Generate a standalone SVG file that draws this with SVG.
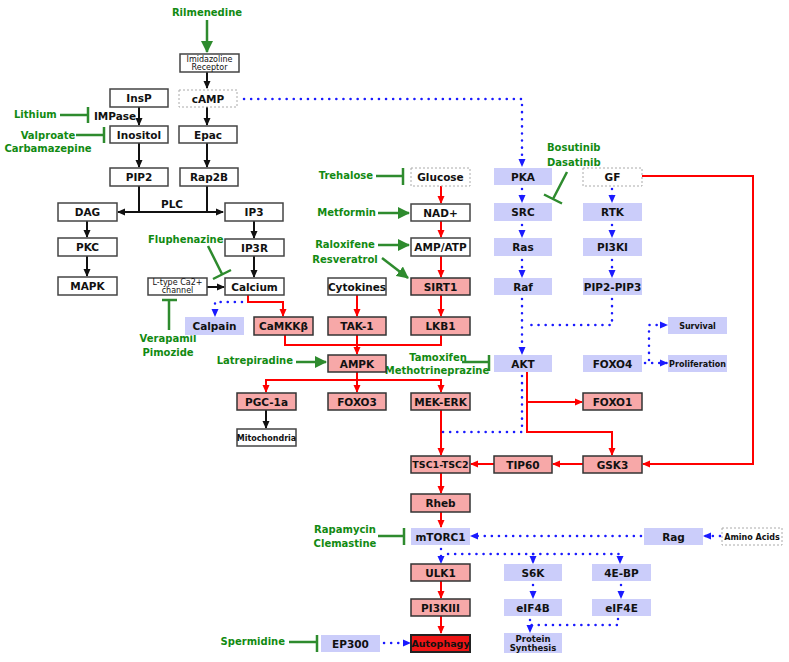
<svg xmlns="http://www.w3.org/2000/svg" width="789" height="662" viewBox="0 0 789 662">
<style>
text{font-family:"DejaVu Sans","Verdana",sans-serif;font-weight:bold;fill:#111}
.t{font-size:10.5px;text-anchor:middle}
.s{font-size:8px;text-anchor:middle;font-weight:normal}
.sb{font-size:8px;text-anchor:middle}
.g{font-size:10px;fill:#128a12}
.w{fill:#fff;stroke:#444;stroke-width:1.5}
.d{fill:#fff;stroke:#aaa;stroke-width:1;stroke-dasharray:2 2}
.p{fill:#f7a8a8;stroke:#333;stroke-width:1.5}
.l{fill:#cbcdfa;stroke:none}
.a{fill:#ee1515;stroke:#222;stroke-width:2}
.k{fill:none;stroke:#111;stroke-width:2}
.r{fill:none;stroke:#f00;stroke-width:2}
.b{fill:none;stroke:#1a1aff;stroke-width:2.5;stroke-dasharray:0.1 7;stroke-linecap:round}
.gr{fill:none;stroke:#2e8b2e;stroke-width:2.5}
</style>
<defs>
<marker id="mk" markerWidth="8" markerHeight="8" refX="7" refY="4" orient="auto-start-reverse" markerUnits="userSpaceOnUse"><path d="M0,0.5 L8,4 L0,7.5 z" fill="#111"/></marker>
<marker id="mr" markerWidth="8" markerHeight="8" refX="7" refY="4" orient="auto-start-reverse" markerUnits="userSpaceOnUse"><path d="M0,0.5 L8,4 L0,7.5 z" fill="#f00"/></marker>
<marker id="mb" markerWidth="8" markerHeight="8" refX="7" refY="4" orient="auto-start-reverse" markerUnits="userSpaceOnUse"><path d="M0,0.5 L8,4 L0,7.5 z" fill="#1a1aff"/></marker>
<marker id="mg" markerWidth="12" markerHeight="12" refX="11" refY="6" orient="auto" markerUnits="userSpaceOnUse"><path d="M0,0 L12,6 L0,12 z" fill="#2e8b2e"/></marker>
</defs>

<g id="connectors">
<!-- black -->
<path class="k" d="M207 72 V88" marker-end="url(#mk)"/>
<path class="k" d="M207 107 V125" marker-end="url(#mk)"/>
<path class="k" d="M207 143 V167" marker-end="url(#mk)"/>
<path class="k" d="M139 107 V125" marker-end="url(#mk)"/>
<path class="k" d="M139 143 V167" marker-end="url(#mk)"/>
<path class="k" d="M139 186 V212"/>
<path class="k" d="M207 186 V212"/>
<path class="k" d="M118 212 H223" marker-start="url(#mk)" marker-end="url(#mk)"/>
<path class="k" d="M87 221 V237" marker-end="url(#mk)"/>
<path class="k" d="M87 256 V276" marker-end="url(#mk)"/>
<path class="k" d="M254 221 V238" marker-end="url(#mk)"/>
<path class="k" d="M254 256 V277" marker-end="url(#mk)"/>
<path class="k" d="M207 287 H224" marker-end="url(#mk)"/>
<path class="k" d="M266 410 V428" marker-end="url(#mk)"/>
<!-- red -->
<path class="r" d="M441 185 V203" marker-end="url(#mr)"/>
<path class="r" d="M441 221 V237" marker-end="url(#mr)"/>
<path class="r" d="M441 256 V277" marker-end="url(#mr)"/>
<path class="r" d="M441 295 V316" marker-end="url(#mr)"/>
<path class="r" d="M248 295 V302 H283 V316" marker-end="url(#mr)"/>
<path class="r" d="M357 295 V316" marker-end="url(#mr)"/>
<path class="r" d="M285 335 V345 H441 V335"/>
<path class="r" d="M357 335 V354" marker-end="url(#mr)"/>
<path class="r" d="M357 372 V392" marker-end="url(#mr)"/>
<path class="r" d="M357 380 H266 V392" marker-end="url(#mr)"/>
<path class="r" d="M357 380 H441 V392" marker-end="url(#mr)"/>
<path class="r" d="M441 410 V455" marker-end="url(#mr)"/>
<path class="r" d="M527 372 V402 H582" marker-end="url(#mr)"/>
<path class="r" d="M527 402 V432 H612 V455" marker-end="url(#mr)"/>
<path class="r" d="M642 176 H753 V464 H643" marker-end="url(#mr)"/>
<path class="r" d="M583 464 H553" marker-end="url(#mr)"/>
<path class="r" d="M494 464 H471" marker-end="url(#mr)"/>
<path class="r" d="M441 473 V493" marker-end="url(#mr)"/>
<path class="r" d="M441 512 V527" marker-end="url(#mr)"/>
<path class="r" d="M441 581 V598" marker-end="url(#mr)"/>
<path class="r" d="M441 616 V633" marker-end="url(#mr)"/>
<!-- blue dotted -->
<path class="b" d="M244 99 H522 V166" marker-end="url(#mb)"/>
<path class="b" d="M522 189 V202" marker-end="url(#mb)"/>
<path class="b" d="M522 225 V237" marker-end="url(#mb)"/>
<path class="b" d="M522 260 V277" marker-end="url(#mb)"/>
<path class="b" d="M522 299 V354" marker-end="url(#mb)"/>
<path class="b" d="M612 299 V325 H528"/>
<path class="b" d="M612 189 V202" marker-end="url(#mb)"/>
<path class="b" d="M612 225 V237" marker-end="url(#mb)"/>
<path class="b" d="M612 260 V277" marker-end="url(#mb)"/>
<path class="b" d="M522 376 V432 H443"/>
<path class="b" d="M242 302 H215 V316" marker-end="url(#mb)"/>
<path class="b" d="M645 363 H667" marker-end="url(#mb)"/>
<path class="b" d="M649 360 V325 H667" marker-end="url(#mb)"/>
<path class="b" d="M720 536 H704" marker-end="url(#mb)"/>
<path class="b" d="M641 536 H471" marker-end="url(#mb)"/>
<path class="b" d="M441 549 V563" marker-end="url(#mb)"/>
<path class="b" d="M448 554 H620 V563" marker-end="url(#mb)"/>
<path class="b" d="M533 554 V563" marker-end="url(#mb)"/>
<path class="b" d="M533 585 V598" marker-end="url(#mb)"/>
<path class="b" d="M621 585 V598" marker-end="url(#mb)"/>
<path class="b" d="M618 619 V625 H530"/>
<path class="b" d="M530 620 V632" marker-end="url(#mb)"/>
<path class="b" d="M384 643 H410" marker-end="url(#mb)"/>
<!-- green -->
<path class="gr" d="M207 20 V52" marker-end="url(#mg)"/>
<path class="gr" d="M60 115 H88 M88 107 V123"/>
<path class="gr" d="M76 135 H104 M104 127 V143"/>
<path class="gr" d="M376 176 H403 M403 168 V185"/>
<path class="gr" d="M378 213 H409" marker-end="url(#mg)"/>
<path class="gr" d="M378 245 H409" marker-end="url(#mg)"/>
<path class="gr" d="M382 258 L408 278" marker-end="url(#mg)"/>
<path class="gr" d="M208 246 L222 274 M213 279 L231 270"/>
<path class="gr" d="M169 330 V300 M162 300 H177"/>
<path class="gr" d="M567 172 L553 199 M544 194.5 L562 203.5"/>
<path class="gr" d="M296 362 H326" marker-end="url(#mg)"/>
<path class="gr" d="M462 362 H489 M489 355 V371"/>
<path class="gr" d="M378 536 H404 M404 528 V545"/>
<path class="gr" d="M289 642 H317 M317 635 V652"/>
</g>

<g id="drug-labels">
<text class="g" x="207" y="16" text-anchor="middle">Rilmenedine</text>
<text class="g" x="14" y="118">Lithium</text>
<text class="g" x="48" y="139" text-anchor="middle">Valproate</text>
<text class="g" x="48" y="152" text-anchor="middle">Carbamazepine</text>
<text class="g" x="373" y="179" text-anchor="end">Trehalose</text>
<text class="g" x="376" y="216" text-anchor="end">Metformin</text>
<text class="g" x="345" y="248" text-anchor="middle">Raloxifene</text>
<text class="g" x="345" y="263" text-anchor="middle">Resveratrol</text>
<text class="g" x="148" y="243">Fluphenazine</text>
<text class="g" x="168" y="342" text-anchor="middle">Verapamil</text>
<text class="g" x="168" y="356" text-anchor="middle">Pimozide</text>
<text class="g" x="293" y="364" text-anchor="end">Latrepiradine</text>
<text class="g" x="438" y="361" text-anchor="middle">Tamoxifen</text>
<text class="g" x="437" y="374" text-anchor="middle">Methotrineprazine</text>
<text class="g" x="547" y="151">Bosutinib</text>
<text class="g" x="547" y="166">Dasatinib</text>
<text class="g" x="345" y="533" text-anchor="middle">Rapamycin</text>
<text class="g" x="345" y="547" text-anchor="middle">Clemastine</text>
<text class="g" x="285" y="645" text-anchor="end">Spermidine</text>
<text class="t" x="115" y="120">IMPase</text>
<text class="t" x="172" y="208">PLC</text>
</g>

<g id="imidazoline"><rect class="w" x="180" y="54" width="59" height="18"/><text class="s" x="209.5" y="62">Imidazoline</text><text class="s" x="209.5" y="70">Receptor</text></g>
<g id="camp"><rect class="d" x="179" y="90" width="58" height="17"/><text class="t" x="208" y="102.5">cAMP</text></g>
<g id="insp"><rect class="w" x="110" y="89" width="58" height="18"/><text class="t" x="139" y="102">InsP</text></g>
<g id="inositol"><rect class="w" x="110" y="126" width="58" height="17"/><text class="t" x="139" y="138.5">Inositol</text></g>
<g id="epac"><rect class="w" x="179" y="126" width="58" height="17"/><text class="t" x="208" y="138.5">Epac</text></g>
<g id="pip2"><rect class="w" x="110" y="168" width="58" height="18"/><text class="t" x="139" y="181">PIP2</text></g>
<g id="rap2b"><rect class="w" x="180" y="168" width="58" height="18"/><text class="t" x="209" y="181">Rap2B</text></g>
<g id="dag"><rect class="w" x="58" y="203" width="59" height="18"/><text class="t" x="87.5" y="216">DAG</text></g>
<g id="ip3"><rect class="w" x="225" y="203" width="58" height="18"/><text class="t" x="254" y="216">IP3</text></g>
<g id="pkc"><rect class="w" x="58" y="238" width="59" height="18"/><text class="t" x="87.5" y="251">PKC</text></g>
<g id="mapk"><rect class="w" x="58" y="277" width="59" height="18"/><text class="t" x="87.5" y="290">MAPK</text></g>
<g id="ip3r"><rect class="w" x="225" y="239" width="59" height="17"/><text class="t" x="254.5" y="251.5">IP3R</text></g>
<g id="ltype"><rect class="w" x="148" y="278" width="59" height="17"/><text class="s" x="177.5" y="285">L-type Ca2+</text><text class="s" x="177.5" y="293">channel</text></g>
<g id="calcium"><rect class="w" x="225" y="278" width="59" height="17"/><text class="t" x="254.5" y="290.5">Calcium</text></g>
<g id="calpain"><rect class="l" x="185" y="317" width="59" height="18"/><text class="t" x="214.5" y="330">Calpain</text></g>
<g id="camkkb"><rect class="p" x="254" y="317" width="59" height="18"/><text class="t" x="283.5" y="330">CaMKKβ</text></g>
<g id="cytokines"><rect class="w" x="328" y="278" width="58" height="17"/><text class="t" x="357" y="290.5">Cytokines</text></g>
<g id="tak1"><rect class="p" x="328" y="317" width="58" height="18"/><text class="t" x="357" y="330">TAK-1</text></g>
<g id="ampk"><rect class="p" x="328" y="355" width="58" height="17"/><text class="t" x="357" y="367.5">AMPK</text></g>
<g id="pgc1a"><rect class="p" x="237" y="393" width="59" height="17"/><text class="t" x="266.5" y="405.5">PGC-1a</text></g>
<g id="foxo3"><rect class="p" x="328" y="393" width="58" height="17"/><text class="t" x="357" y="405.5">FOXO3</text></g>
<g id="mekerk"><rect class="p" x="411" y="393" width="59" height="17"/><text class="t" x="440.5" y="405.5">MEK-ERK</text></g>
<g id="mitochondria"><rect class="w" x="237" y="429" width="59" height="17"/><text class="sb" x="266.5" y="440.5">Mitochondria</text></g>
<g id="glucose"><rect class="d" x="411" y="168" width="59" height="18"/><text class="t" x="440.5" y="181">Glucose</text></g>
<g id="nad"><rect class="w" x="411" y="204" width="59" height="17"/><text class="t" x="440.5" y="216.5">NAD+</text></g>
<g id="ampatp"><rect class="w" x="411" y="238" width="59" height="18"/><text class="t" x="440.5" y="251">AMP/ATP</text></g>
<g id="sirt1"><rect class="p" x="411" y="278" width="59" height="17"/><text class="t" x="440.5" y="290.5">SIRT1</text></g>
<g id="lkb1"><rect class="p" x="411" y="317" width="59" height="18"/><text class="t" x="440.5" y="330">LKB1</text></g>
<g id="pka"><rect class="l" x="494" y="168" width="58" height="17"/><text class="t" x="523" y="180.5">PKA</text></g>
<g id="src"><rect class="l" x="494" y="203" width="58" height="18"/><text class="t" x="523" y="216">SRC</text></g>
<g id="ras"><rect class="l" x="494" y="238" width="58" height="18"/><text class="t" x="523" y="251">Ras</text></g>
<g id="raf"><rect class="l" x="494" y="278" width="58" height="17"/><text class="t" x="523" y="290.5">Raf</text></g>
<g id="akt"><rect class="l" x="494" y="355" width="58" height="17"/><text class="t" x="523" y="367.5">AKT</text></g>
<g id="gf"><rect class="d" x="583" y="168" width="59" height="18"/><text class="t" x="612.5" y="181">GF</text></g>
<g id="rtk"><rect class="l" x="583" y="203" width="59" height="18"/><text class="t" x="612.5" y="216">RTK</text></g>
<g id="pi3ki"><rect class="l" x="583" y="238" width="59" height="18"/><text class="t" x="612.5" y="251">PI3KI</text></g>
<g id="pip2pip3"><rect class="l" x="583" y="278" width="59" height="17"/><text class="t" x="612.5" y="290.5">PIP2-PIP3</text></g>
<g id="foxo4"><rect class="l" x="583" y="355" width="59" height="17"/><text class="t" x="612.5" y="367.5">FOXO4</text></g>
<g id="foxo1"><rect class="p" x="583" y="393" width="59" height="17"/><text class="t" x="612.5" y="405.5">FOXO1</text></g>
<g id="survival"><rect class="l" x="668" y="317" width="59" height="17"/><text class="sb" x="697.5" y="328.5">Survival</text></g>
<g id="proliferation"><rect class="l" x="668" y="355" width="59" height="17"/><text class="sb" x="697.5" y="366.5">Proliferation</text></g>
<g id="tsc"><rect class="p" x="411" y="456" width="59" height="17"/><text class="t" x="440.5" y="468" style="font-size:9.5px">TSC1-TSC2</text></g>
<g id="tip60"><rect class="p" x="494" y="456" width="58" height="17"/><text class="t" x="523" y="468.5">TIP60</text></g>
<g id="gsk3"><rect class="p" x="583" y="456" width="59" height="17"/><text class="t" x="612.5" y="468.5">GSK3</text></g>
<g id="rheb"><rect class="p" x="411" y="494" width="59" height="18"/><text class="t" x="440.5" y="507">Rheb</text></g>
<g id="mtorc1"><rect class="l" x="411" y="528" width="59" height="17"/><text class="t" x="440.5" y="540.5">mTORC1</text></g>
<g id="ulk1"><rect class="p" x="411" y="564" width="59" height="17"/><text class="t" x="440.5" y="576.5">ULK1</text></g>
<g id="pi3kiii"><rect class="p" x="411" y="599" width="59" height="17"/><text class="t" x="440.5" y="611.5">PI3KIII</text></g>
<g id="autophagy"><rect class="a" x="411" y="635" width="59" height="17"/><text class="t" x="440.5" y="647" style="font-size:9.5px">Autophagy</text></g>
<g id="ep300"><rect class="l" x="321" y="635" width="59" height="17"/><text class="t" x="350.5" y="647.5">EP300</text></g>
<g id="s6k"><rect class="l" x="504" y="564" width="58" height="17"/><text class="t" x="533" y="576.5">S6K</text></g>
<g id="eif4b"><rect class="l" x="504" y="599" width="58" height="17"/><text class="t" x="533" y="611.5">eIF4B</text></g>
<g id="protein"><rect class="l" x="504" y="633" width="58" height="20"/><text class="t" x="533" y="641.5" style="font-size:8.5px">Protein</text><text class="t" x="533" y="651" style="font-size:8.5px">Synthesis</text></g>
<g id="ebp"><rect class="l" x="592" y="564" width="59" height="17"/><text class="t" x="621.5" y="576.5">4E-BP</text></g>
<g id="eif4e"><rect class="l" x="592" y="599" width="59" height="17"/><text class="t" x="621.5" y="611.5">eIF4E</text></g>
<g id="rag"><rect class="l" x="644" y="528" width="59" height="17"/><text class="t" x="673.5" y="540.5">Rag</text></g>
<g id="aminoacids"><rect class="d" x="722" y="528" width="60" height="17"/><text class="sb" x="752" y="539.5">Amino Acids</text></g>
</svg>
